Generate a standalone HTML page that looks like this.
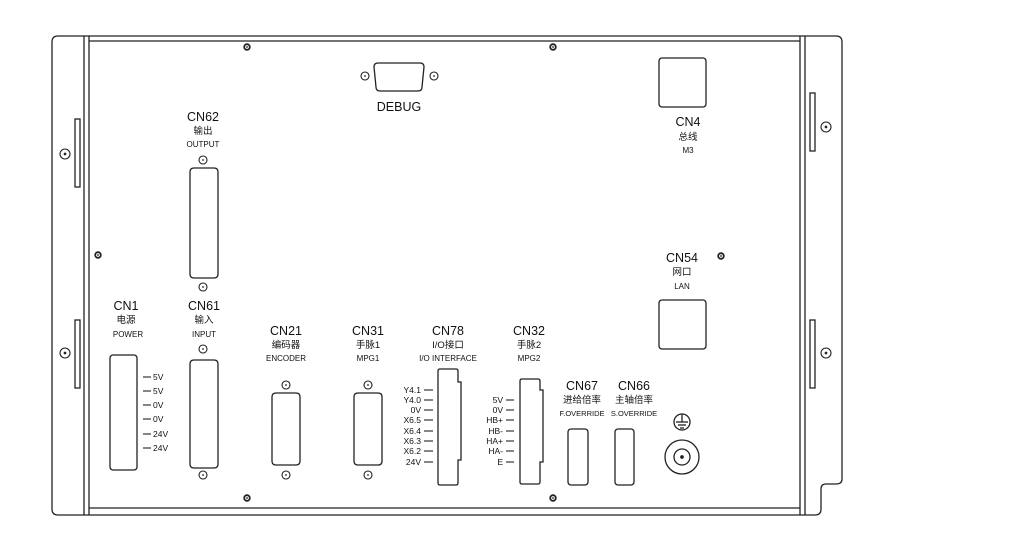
<!DOCTYPE html>
<html><head><meta charset="utf-8"><style>
html,body{margin:0;padding:0;background:#fff;width:1028px;height:546px;overflow:hidden}
svg{display:block}
text{font-family:"Liberation Sans","Noto Sans CJK SC",sans-serif;fill:#111;text-anchor:middle}
.t{font-size:12.5px}
.c{font-size:9.5px}
.e{font-size:8px}
.n{font-size:7.5px}
.l{font-size:8.5px;text-anchor:end}
.r{font-size:8.5px;text-anchor:start}
</style></head><body>
<svg width="1028" height="546" viewBox="0 0 1028 546" fill="none" stroke="#222" stroke-width="1.3">
<path d="M58 36 H836 Q842 36 842 42 V479 Q842 484 836 484 H826 Q821 484 821 489 V509 Q821 515 815 515 H58 Q52 515 52 509 V42 Q52 36 58 36 Z"/>
<line x1="84" y1="36" x2="84" y2="515"/>
<line x1="89" y1="36" x2="89" y2="515"/>
<line x1="800" y1="36" x2="800" y2="515"/>
<line x1="805" y1="36" x2="805" y2="515"/>
<line x1="89" y1="41" x2="800" y2="41"/>
<line x1="89" y1="508" x2="800" y2="508"/>
<rect x="75" y="119" width="5" height="68"/>
<rect x="75" y="320" width="5" height="68"/>
<rect x="810" y="93" width="5" height="58"/>
<rect x="810" y="320" width="5" height="68"/>
<g stroke-width="1.1">
<circle cx="65" cy="154" r="5"/><circle cx="65" cy="154" r="0.8" fill="#222"/>
<circle cx="65" cy="353" r="5"/><circle cx="65" cy="353" r="0.8" fill="#222"/>
<circle cx="826" cy="127" r="5"/><circle cx="826" cy="127" r="0.8" fill="#222"/>
<circle cx="826" cy="353" r="5"/><circle cx="826" cy="353" r="0.8" fill="#222"/>
</g>
<g stroke-width="1.8">
<circle cx="247" cy="47" r="2.8"/><circle cx="553" cy="47" r="2.8"/>
<circle cx="98" cy="255" r="2.8"/><circle cx="247" cy="498" r="2.8"/>
<circle cx="553" cy="498" r="2.8"/><circle cx="721" cy="256" r="2.8"/>
</g>
<g fill="#222" stroke="none">
<circle cx="247" cy="47" r="0.9"/><circle cx="553" cy="47" r="0.9"/>
<circle cx="98" cy="255" r="0.9"/><circle cx="247" cy="498" r="0.9"/>
<circle cx="553" cy="498" r="0.9"/><circle cx="721" cy="256" r="0.9"/>
</g>
<g stroke-width="1.1">
<circle cx="365" cy="76" r="4"/><circle cx="434" cy="76" r="4"/>
<circle cx="203" cy="160" r="4"/><circle cx="203" cy="287" r="4"/>
<circle cx="203" cy="349" r="4"/><circle cx="203" cy="475" r="4"/>
<circle cx="286" cy="385" r="4"/><circle cx="286" cy="475" r="4"/>
<circle cx="368" cy="385" r="4"/><circle cx="368" cy="475" r="4"/>
</g>
<g fill="#222" stroke="none">
<circle cx="365" cy="76" r="0.9"/><circle cx="434" cy="76" r="0.9"/>
<circle cx="203" cy="160" r="0.9"/><circle cx="203" cy="287" r="0.9"/>
<circle cx="203" cy="349" r="0.9"/><circle cx="203" cy="475" r="0.9"/>
<circle cx="286" cy="385" r="0.9"/><circle cx="286" cy="475" r="0.9"/>
<circle cx="368" cy="385" r="0.9"/><circle cx="368" cy="475" r="0.9"/>
</g>
<path d="M378 63 H420 Q424 63 424 67 L422 87 Q422 91 418 91 H380 Q376 91 376 87 L374 67 Q374 63 378 63 Z"/>
<path d="M194 168 H214 Q218 168 218 172 V274 Q218 278 214 278 H194 Q190 278 190 274 V172 Q190 168 194 168 Z"/>
<path d="M194 360 H214 Q218 360 218 364 V464 Q218 468 214 468 H194 Q190 468 190 464 V364 Q190 360 194 360 Z"/>
<rect x="110" y="355" width="27" height="115" rx="3"/>
<path d="M276 393 H296 Q300 393 300 397 V461 Q300 465 296 465 H276 Q272 465 272 461 V397 Q272 393 276 393 Z"/>
<path d="M358 393 H378 Q382 393 382 397 V461 Q382 465 378 465 H358 Q354 465 354 461 V397 Q354 393 358 393 Z"/>
<path d="M440 369 H456 Q458 369 458 371 V382 H461 V460 H458 V483 Q458 485 456 485 H440 Q438 485 438 483 V371 Q438 369 440 369 Z"/>
<path d="M522 379 H538 Q540 379 540 381 V390 H543 V462 H540 V482 Q540 484 538 484 H522 Q520 484 520 482 V381 Q520 379 522 379 Z"/>
<rect x="568" y="429" width="20" height="56" rx="3"/>
<rect x="615" y="429" width="19" height="56" rx="3"/>
<rect x="659" y="58" width="47" height="49" rx="3"/>
<rect x="659" y="300" width="47" height="49" rx="3"/>
<circle cx="682" cy="422" r="8"/>
<line x1="682" y1="414" x2="682" y2="422"/>
<line x1="676" y1="422" x2="688" y2="422"/>
<line x1="678" y1="425" x2="686" y2="425"/>
<line x1="680" y1="428" x2="684" y2="428"/>
<circle cx="682" cy="457" r="17"/>
<circle cx="682" cy="457" r="8"/>
<circle cx="682" cy="457" r="1.2" fill="#222"/>
<g stroke-width="1.1">
<line x1="143" y1="377" x2="151" y2="377"/><line x1="143" y1="391" x2="151" y2="391"/>
<line x1="143" y1="405" x2="151" y2="405"/><line x1="143" y1="419" x2="151" y2="419"/>
<line x1="143" y1="434" x2="151" y2="434"/><line x1="143" y1="448" x2="151" y2="448"/>
<line x1="424" y1="390" x2="433" y2="390"/><line x1="424" y1="400" x2="433" y2="400"/>
<line x1="424" y1="410" x2="433" y2="410"/><line x1="424" y1="420" x2="433" y2="420"/>
<line x1="424" y1="431" x2="433" y2="431"/><line x1="424" y1="441" x2="433" y2="441"/>
<line x1="424" y1="451" x2="433" y2="451"/><line x1="424" y1="462" x2="433" y2="462"/>
<line x1="506" y1="400" x2="514" y2="400"/><line x1="506" y1="410" x2="514" y2="410"/>
<line x1="506" y1="420" x2="514" y2="420"/><line x1="506" y1="431" x2="514" y2="431"/>
<line x1="506" y1="441" x2="514" y2="441"/><line x1="506" y1="451" x2="514" y2="451"/>
<line x1="506" y1="462" x2="514" y2="462"/>
</g>
<g stroke="none">
<text x="399" y="111" class="t">DEBUG</text>
<text x="203" y="121" class="t">CN62</text><text x="203" y="134" class="c">输出</text><text x="203" y="147" class="e">OUTPUT</text>
<text x="688" y="126" class="t">CN4</text><text x="688" y="140" class="c">总线</text><text x="688" y="153" class="e">M3</text>
<text x="682" y="262" class="t">CN54</text><text x="682" y="275" class="c">网口</text><text x="682" y="289" class="e">LAN</text>
<text x="126" y="310" class="t">CN1</text><text x="126" y="323" class="c">电源</text><text x="128" y="337" class="e">POWER</text>
<text x="204" y="310" class="t">CN61</text><text x="204" y="323" class="c">输入</text><text x="204" y="337" class="e">INPUT</text>
<text x="286" y="335" class="t">CN21</text><text x="286" y="348" class="c">编码器</text><text x="286" y="361" class="e">ENCODER</text>
<text x="368" y="335" class="t">CN31</text><text x="368" y="348" class="c">手脉1</text><text x="368" y="361" class="e">MPG1</text>
<text x="448" y="335" class="t">CN78</text><text x="448" y="348" class="c">I/O接口</text><text x="448" y="361" class="e">I/O INTERFACE</text>
<text x="529" y="335" class="t">CN32</text><text x="529" y="348" class="c">手脉2</text><text x="529" y="361" class="e">MPG2</text>
<text x="582" y="390" class="t">CN67</text><text x="582" y="403" class="c">进给倍率</text><text x="582" y="416" class="n">F.OVERRIDE</text>
<text x="634" y="390" class="t">CN66</text><text x="634" y="403" class="c">主轴倍率</text><text x="634" y="416" class="n">S.OVERRIDE</text>
<text x="153" y="380" class="r">5V</text><text x="153" y="394" class="r">5V</text>
<text x="153" y="408" class="r">0V</text><text x="153" y="422" class="r">0V</text>
<text x="153" y="437" class="r">24V</text><text x="153" y="451" class="r">24V</text>
<text x="421" y="393" class="l">Y4.1</text><text x="421" y="403" class="l">Y4.0</text>
<text x="421" y="413" class="l">0V</text><text x="421" y="423" class="l">X6.5</text>
<text x="421" y="434" class="l">X6.4</text><text x="421" y="444" class="l">X6.3</text>
<text x="421" y="454" class="l">X6.2</text><text x="421" y="465" class="l">24V</text>
<text x="503" y="403" class="l">5V</text><text x="503" y="413" class="l">0V</text>
<text x="503" y="423" class="l">HB+</text><text x="503" y="434" class="l">HB-</text>
<text x="503" y="444" class="l">HA+</text><text x="503" y="454" class="l">HA-</text>
<text x="503" y="465" class="l">E</text>
</g>
</svg>
</body></html>
